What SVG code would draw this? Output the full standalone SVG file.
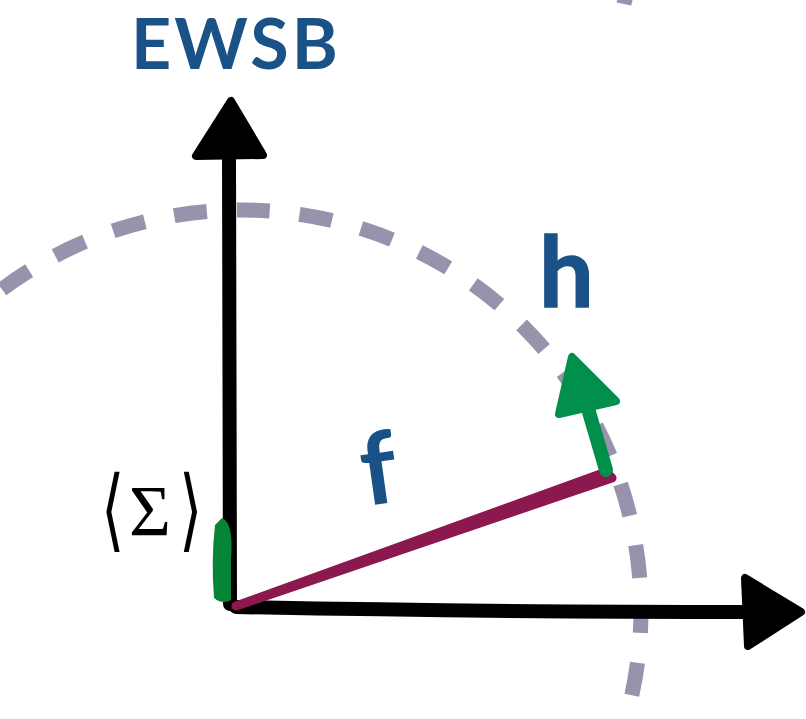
<svg xmlns="http://www.w3.org/2000/svg" width="806" height="719" viewBox="0 0 806 719">
<style>
.dash{fill:none;stroke:#9892ad;stroke-width:15;stroke-dasharray:33 30}
.lbl{font-family:Lato,"Open Sans",sans-serif;fill:#1a5287;font-weight:bold}
.ax{fill:none;stroke:#000;stroke-width:14;stroke-linecap:round}
.head{stroke-linejoin:round;stroke-width:8}
.tex{font-family:"Liberation Serif","DejaVu Serif",serif;fill:#000}
</style>
<rect width="806" height="719" fill="#fff"/>
<g id="circle">
<circle class="dash" cx="241" cy="610" r="400" stroke-dashoffset="10"/>
<line x1="627" y1="-10" x2="624" y2="4" stroke="#9892ad" stroke-width="15"/>
</g>
<g id="connectors">
<g id="vaxis">
<path d="M230 604 L229 155" class="ax"/>
<polygon points="231,101 196,156 263,155" fill="#000" stroke="#000" class="head"/>
</g>
<g id="haxis">
<path d="M236 607 Q480 612 752 612" class="ax"/>
<polygon points="801,612 745,578 748,646" fill="#000" stroke="#000" class="head"/>
</g>
<g id="fvec">
<path d="M236 606 L612 478 L606 472 Z" fill="#8c1850" stroke="#8c1850" stroke-width="9" stroke-linejoin="round"/>
</g>
<g id="hvec">
<path d="M606 470 L589 412" fill="none" stroke="#00904c" stroke-width="14" stroke-linecap="round"/>
<polygon points="572,357 559,414 616,401" fill="#00904c" stroke="#00904c" class="head"/>
</g>
<g id="sigmablob">
<path d="M222 518 Q234 523 231 560 L231 600 Q222 605 214 598 Q211 560 215 525 Z" fill="#058535"/>
</g>
</g>
<g id="labels">
<text class="lbl" x="131" y="69" font-size="70" letter-spacing="3">EWSB</text>
<text class="lbl" x="539" y="307" font-size="97" font-weight="normal" stroke="#1a5287" stroke-width="1.5">h</text>
<text class="lbl" x="360" y="503" font-size="100" transform="rotate(-8 385 465)">f</text>
<text class="tex" x="129" y="535" font-size="72">Σ</text>
<text class="tex" font-family="DejaVu Serif,serif" transform="translate(101 540) scale(1 1.5)" font-size="60">⟨</text>
<text class="tex" font-family="DejaVu Serif,serif" transform="translate(179 540) scale(1 1.5)" font-size="60">⟩</text>
</g>
</svg>
